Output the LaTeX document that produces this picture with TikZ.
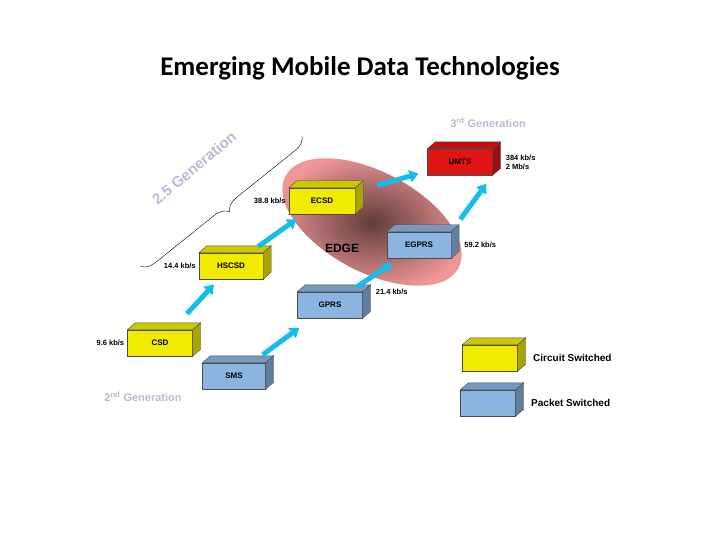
\documentclass[tikz,border=0pt]{standalone}
\usepackage{fontspec}
\setmainfont{Liberation Sans}
\newfontfamily\titlefont{Carlito}
\usetikzlibrary{arrows.meta,positioning,calc,decorations.pathreplacing}
\definecolor{cyell}{RGB}{240,235,0}
\definecolor{cblue}{RGB}{140,180,225}
\definecolor{cred}{RGB}{225,20,20}
\definecolor{cflow}{RGB}{20,190,230}
\definecolor{cgen}{RGB}{185,185,215}
\definecolor{cpink}{RGB}{240,150,150}
\tikzset{
  cube/.style={draw=black!70, minimum width=#1, minimum height=26pt, inner sep=0pt,
    font=\bfseries\fontsize{8}{9}\selectfont},
  rate/.style={font=\bfseries\fontsize{7.5}{9}\selectfont, inner sep=1pt},
  gen/.style={text=cgen, font=\bfseries\fontsize{11}{13}\selectfont},
  flow/.style={cflow, line width=5pt, -{Triangle[width=12pt,length=9pt]}}
}
% faces of a box: top and right side, behind the front node
\newcommand\faces[2]{%
  \fill[#2!85!black, draw=black!70] (#1.north west) -- ++(8pt,7pt) -- ([shift={(8pt,7pt)}]#1.north east) -- (#1.north east) -- cycle;
  \fill[#2!70!black, draw=black!70] (#1.north east) -- ++(8pt,7pt) -- ([shift={(8pt,7pt)}]#1.south east) -- (#1.south east) -- cycle;}
\begin{document}
\begin{tikzpicture}[x=1pt,y=-1pt]
  \useasboundingbox (0,0) rectangle (720,540);
  \node[font=\titlefont\bfseries\fontsize{27}{32}\selectfont] (title) at (360,68) {Emerging Mobile Data Technologies};

  % EDGE region
  \shade[inner color=cpink!40!black, outer color=cpink, rotate around={-28:(372,222)}]
    (372,222) ellipse (98pt and 50pt);
  \node[font=\bfseries\fontsize{12}{14}\selectfont] (edge) at (342,248) {EDGE};

  % boxes
  \node[cube=65pt, fill=cyell] (csd) at (160,343) {CSD};
  \node[cube=63pt, fill=cblue] (sms) at (234,376) {SMS};
  \node[cube=64pt, fill=cyell] (hscsd) at (231,266) {HSCSD};
  \node[cube=65pt, fill=cblue] (gprs) at (330,305) {GPRS};
  \node[cube=66pt, fill=cyell] (ecsd) at (322,201) {ECSD};
  \node[cube=64pt, fill=cblue] (egprs) at (419,245) {EGPRS};
  \node[cube=65pt, fill=cred] (umts) at (460,162) {UMTS};
  \node[cube=55pt, fill=cyell] (lcs) at (490,358) {};
  \node[cube=55pt, fill=cblue] (lps) at (488,403) {};
  \foreach \b/\c in {csd/cyell, sms/cblue, hscsd/cyell, gprs/cblue, ecsd/cyell, egprs/cblue, umts/cred, lcs/cyell, lps/cblue}
    \faces{\b}{\c};

  % rates
  \node[rate, left=2pt of csd] (r96) {9.6 kb/s};
  \node[rate, left=2pt of hscsd] (r144) {14.4 kb/s};
  \node[rate, left=2pt of ecsd] (r388) {38.8 kb/s};
  \node[rate, right=12pt of gprs.north east, anchor=west] (r214) {21.4 kb/s};
  \node[rate, right=12pt of egprs] (r592) {59.2 kb/s};
  \node[rate, right=12pt of umts, align=left] (r384) {384 kb/s\\2 Mb/s};

  % legend
  \node[font=\bfseries\fontsize{10}{12}\selectfont, right=12pt of lcs, anchor=west] (tcs) {Circuit Switched};
  \node[font=\bfseries\fontsize{10}{12}\selectfont, right=12pt of lps, anchor=west] (tps) {Packet Switched};

  % generations
  \node[gen] (g2) at (143,397) {2\textsuperscript{nd} Generation};
  \node[gen] (g3) at (488,123) {3\textsuperscript{rd} Generation};
  \node[gen, rotate=40, font=\bfseries\fontsize{15}{17}\selectfont] (g25) at (194,168) {2.5 Generation};
  \coordinate (b1) at (140,266);
  \coordinate (b2) at (302,136);
  \draw[decorate, decoration={brace, amplitude=14pt, aspect=0.5, mirror}] (b1) -- (b2);

  % evolution
  \draw[flow] ($(csd)!0.38!(hscsd)$) -- ($(csd)!0.76!(hscsd)$);
  \draw[flow] ($(sms)!0.30!(gprs)$) -- ($(sms)!0.68!(gprs)$);
  \draw[flow] ($(hscsd)!0.30!(ecsd)$) -- ($(hscsd)!0.72!(ecsd)$);
  \draw[flow] ($(gprs)!0.30!(egprs)$) -- ($(gprs)!0.70!(egprs)$);
  \draw[flow] ($(ecsd)!0.40!(umts)$) -- ($(ecsd)!0.70!(umts)$);
  \draw[flow] ($(egprs.north east)!0.22!(umts.south east)$) -- ($(egprs.north east)!0.85!(umts.south east)$);
\end{tikzpicture}
\end{document}
